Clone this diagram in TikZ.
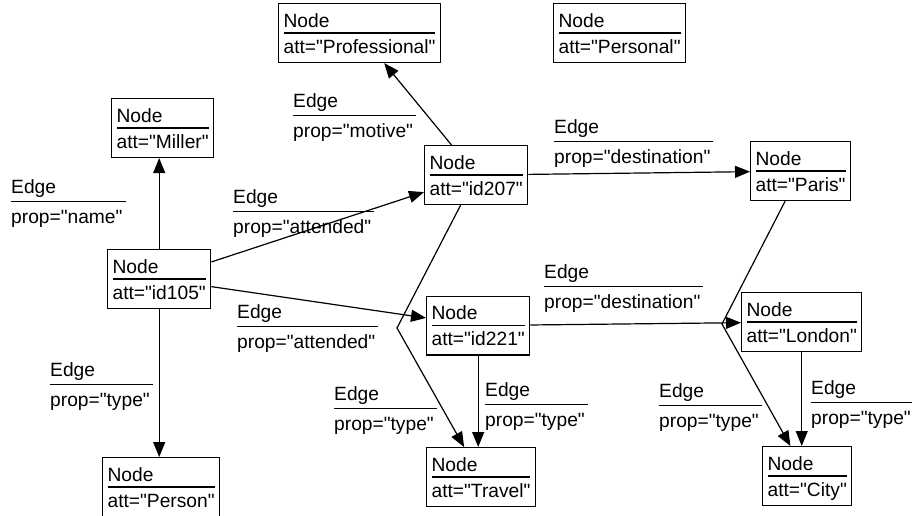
\documentclass[tikz,border=0pt]{standalone}
\usepackage{fontspec}
\setmainfont{Liberation Sans}[Ligatures=TeXOff]
\usepackage{tikz}
\usetikzlibrary{arrows.meta}

\newcommand{\nodetext}[1]{\vbox{\offinterlineskip
  \hbox{\rule{0pt}{23.7pt}Node}\kern5pt\hrule height 1.2pt
  \hbox{\rule[-9.4pt]{0pt}{28.8pt}att="#1"}}}
\newcommand{\edgetext}[1]{\vbox{\offinterlineskip
  \hbox{\rule{0pt}{16pt}Edge}\kern3.4pt\hrule height 1.2pt
  \hbox{\rule[-5pt]{0pt}{26.9pt}prop="#1"\kern3pt}}}

\begin{document}
\begin{tikzpicture}[
  x=1pt, y=-1pt,
  objnode/.style={draw, line width=1.2pt, inner xsep=5pt, inner ysep=0pt, anchor=north west,
                  font=\fontsize{19.2}{22}\selectfont},
  edgelabel/.style={inner sep=0pt, anchor=north west, font=\fontsize{19.2}{22}\selectfont},
  link/.style={line width=1.2pt, -{Triangle[length=15pt, width=12pt]}}
]
\useasboundingbox (0,0) rectangle (912,516);

\node[objnode] (prof) at (278,3) {\nodetext{Professional}};
\node[objnode] (pers) at (553,3) {\nodetext{Personal}};
\node[objnode] (miller) at (111,98) {\nodetext{Miller}};
\node[objnode] (id105) at (107,249) {\nodetext{id105}};
\node[objnode] (id207) at (424,145) {\nodetext{id207}};
\node[objnode] (paris) at (750,141) {\nodetext{Paris}};
\node[objnode] (id221) at (426,295.5) {\nodetext{id221}};
\node[objnode] (london) at (741,292) {\nodetext{London}};
\node[objnode] (travel) at (426,447) {\nodetext{Travel}};
\node[objnode] (city) at (762,446) {\nodetext{City}};
\node[objnode] (person) at (102,457) {\nodetext{Person}};

\node[edgelabel] (lname) at (11,177) {\edgetext{name}};
\node[edgelabel] (lmotive) at (293,91) {\edgetext{motive}};
\node[edgelabel] (lattA) at (233,187) {\edgetext{attended}};
\node[edgelabel] (lattB) at (237,302) {\edgetext{attended}};
\node[edgelabel] (ldestA) at (554,117) {\edgetext{destination}};
\node[edgelabel] (ldestB) at (544,262) {\edgetext{destination}};
\node[edgelabel] (ltypeP) at (50,360) {\edgetext{type}};
\node[edgelabel] (ltypeA) at (334,384) {\edgetext{type}};
\node[edgelabel] (ltypeB) at (485,380) {\edgetext{type}};
\node[edgelabel] (ltypeC) at (659,381) {\edgetext{type}};
\node[edgelabel] (ltypeD) at (811,378) {\edgetext{type}};

\coordinate (bendT) at (397,328);
\coordinate (bendC) at (722,324);

\draw[link] (id105.north) -- (id105.north |- miller.south);
\draw[link] (id105.south) -- (id105.south |- person.north);
\draw[link] (id105) -- (id207);
\draw[link] (id105) -- (id221);
\draw[link] (id207) -- (prof);
\draw[link] (id207) -- (paris);
\draw[link] (id221) -- (london);
\draw[link] (id221.south) -- (id221.south |- travel.north);
\draw[link] (london.south) -- (london.south |- city.north);
\draw[link] (id207) -- (bendT) -- (travel);
\draw[link] (paris) -- (bendC) -- (city);

\end{tikzpicture}
\end{document}
